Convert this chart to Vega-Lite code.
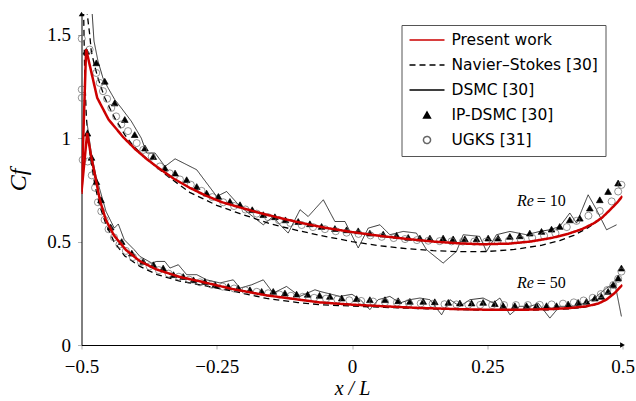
{
"$schema":"https://vega.github.io/schema/vega-lite/v6.json",
"width":541,"height":331,
"autosize":{"type":"none"},
"padding":{"left":81.5,"top":14,"right":14,"bottom":56},
"config":{
 "view":{"stroke":null},
 "axis":{"domainColor":"black","domainWidth":1,"tickColor":"#b0b0b0","tickSize":4,"labelFont":"Liberation Serif","labelFontSize":19,"labelColor":"black","titleFont":"Liberation Serif","titleColor":"black","titleFontWeight":"normal","grid":false,"labelFlush":false,"labelOverlap":false},
 "legend":{"orient":"none","legendX":320,"legendY":11,"strokeColor":"#555555","fillColor":"white","padding":7,"labelFont":"DejaVu Sans","labelFontSize":15.5,"labelColor":"black","labelOffset":6,"rowPadding":8,"clipHeight":16,"labelLimit":300,"symbolSize":1225}
},
"datasets":{
"lines":[
{"s":"Navier–Stokes [30]","re":10,"x":-0.4975,"y":2.4},{"s":"Navier–Stokes [30]","re":10,"x":-0.4893,"y":1.597},{"s":"Navier–Stokes [30]","re":10,"x":-0.4848,"y":1.5},{"s":"Navier–Stokes [30]","re":10,"x":-0.4819,"y":1.42},{"s":"Navier–Stokes [30]","re":10,"x":-0.4756,"y":1.348},{"s":"Navier–Stokes [30]","re":10,"x":-0.4695,"y":1.29},{"s":"Navier–Stokes [30]","re":10,"x":-0.4634,"y":1.243},{"s":"Navier–Stokes [30]","re":10,"x":-0.4571,"y":1.195},{"s":"Navier–Stokes [30]","re":10,"x":-0.4479,"y":1.146},{"s":"Navier–Stokes [30]","re":10,"x":-0.4387,"y":1.098},{"s":"Navier–Stokes [30]","re":10,"x":-0.4294,"y":1.058},{"s":"Navier–Stokes [30]","re":10,"x":-0.4202,"y":1.017},{"s":"Navier–Stokes [30]","re":10,"x":-0.405,"y":0.965},{"s":"Navier–Stokes [30]","re":10,"x":-0.39,"y":0.925},{"s":"Navier–Stokes [30]","re":10,"x":-0.37,"y":0.88},{"s":"Navier–Stokes [30]","re":10,"x":-0.343,"y":0.82},{"s":"Navier–Stokes [30]","re":10,"x":-0.3,"y":0.738},{"s":"Navier–Stokes [30]","re":10,"x":-0.25,"y":0.675},{"s":"Navier–Stokes [30]","re":10,"x":-0.207,"y":0.635},{"s":"Navier–Stokes [30]","re":10,"x":-0.15,"y":0.585},{"s":"Navier–Stokes [30]","re":10,"x":-0.1,"y":0.553},{"s":"Navier–Stokes [30]","re":10,"x":-0.05,"y":0.525},{"s":"Navier–Stokes [30]","re":10,"x":0,"y":0.5},{"s":"Navier–Stokes [30]","re":10,"x":0.05,"y":0.48},{"s":"Navier–Stokes [30]","re":10,"x":0.1,"y":0.466},{"s":"Navier–Stokes [30]","re":10,"x":0.15,"y":0.456},{"s":"Navier–Stokes [30]","re":10,"x":0.2,"y":0.451},{"s":"Navier–Stokes [30]","re":10,"x":0.25,"y":0.452},{"s":"Navier–Stokes [30]","re":10,"x":0.3,"y":0.462},{"s":"Navier–Stokes [30]","re":10,"x":0.35,"y":0.482},{"s":"Navier–Stokes [30]","re":10,"x":0.384,"y":0.505},{"s":"Navier–Stokes [30]","re":10,"x":0.41,"y":0.53},{"s":"Navier–Stokes [30]","re":10,"x":0.435,"y":0.565},{"s":"Navier–Stokes [30]","re":10,"x":0.455,"y":0.6},
{"s":"Navier–Stokes [30]","re":50,"x":-0.4985,"y":2.2},{"s":"Navier–Stokes [30]","re":50,"x":-0.496,"y":1.6},{"s":"Navier–Stokes [30]","re":50,"x":-0.494,"y":1.3},{"s":"Navier–Stokes [30]","re":50,"x":-0.491,"y":1.1},{"s":"Navier–Stokes [30]","re":50,"x":-0.487,"y":0.98},{"s":"Navier–Stokes [30]","re":50,"x":-0.482,"y":0.88},{"s":"Navier–Stokes [30]","re":50,"x":-0.475,"y":0.77},{"s":"Navier–Stokes [30]","re":50,"x":-0.466,"y":0.67},{"s":"Navier–Stokes [30]","re":50,"x":-0.455,"y":0.585},{"s":"Navier–Stokes [30]","re":50,"x":-0.44,"y":0.5},{"s":"Navier–Stokes [30]","re":50,"x":-0.42,"y":0.43},{"s":"Navier–Stokes [30]","re":50,"x":-0.392,"y":0.38},{"s":"Navier–Stokes [30]","re":50,"x":-0.36,"y":0.34},{"s":"Navier–Stokes [30]","re":50,"x":-0.32,"y":0.31},{"s":"Navier–Stokes [30]","re":50,"x":-0.281,"y":0.291},{"s":"Navier–Stokes [30]","re":50,"x":-0.22,"y":0.26},{"s":"Navier–Stokes [30]","re":50,"x":-0.158,"y":0.225},{"s":"Navier–Stokes [30]","re":50,"x":-0.1,"y":0.205},{"s":"Navier–Stokes [30]","re":50,"x":-0.059,"y":0.195},{"s":"Navier–Stokes [30]","re":50,"x":0,"y":0.188},{"s":"Navier–Stokes [30]","re":50,"x":0.06,"y":0.182},{"s":"Navier–Stokes [30]","re":50,"x":0.125,"y":0.176},{"s":"Navier–Stokes [30]","re":50,"x":0.2,"y":0.171},{"s":"Navier–Stokes [30]","re":50,"x":0.26,"y":0.168},{"s":"Navier–Stokes [30]","re":50,"x":0.31,"y":0.168},{"s":"Navier–Stokes [30]","re":50,"x":0.36,"y":0.17},{"s":"Navier–Stokes [30]","re":50,"x":0.4,"y":0.175},{"s":"Navier–Stokes [30]","re":50,"x":0.43,"y":0.183},{"s":"Navier–Stokes [30]","re":50,"x":0.45,"y":0.195},
{"s":"DSMC [30]","re":10,"x":-0.484,"y":1.75},{"s":"DSMC [30]","re":10,"x":-0.4769,"y":1.469},{"s":"DSMC [30]","re":10,"x":-0.4695,"y":1.372},{"s":"DSMC [30]","re":10,"x":-0.4603,"y":1.29},{"s":"DSMC [30]","re":10,"x":-0.451,"y":1.243},{"s":"DSMC [30]","re":10,"x":-0.4387,"y":1.187},{"s":"DSMC [30]","re":10,"x":-0.4265,"y":1.146},{"s":"DSMC [30]","re":10,"x":-0.408,"y":1.082},{"s":"DSMC [30]","re":10,"x":-0.3895,"y":1.0},{"s":"DSMC [30]","re":10,"x":-0.3795,"y":0.928},{"s":"DSMC [30]","re":10,"x":-0.364,"y":0.928},{"s":"DSMC [30]","re":10,"x":-0.3457,"y":0.863},{"s":"DSMC [30]","re":10,"x":-0.327,"y":0.9},{"s":"DSMC [30]","re":10,"x":-0.287,"y":0.847},{"s":"DSMC [30]","re":10,"x":-0.2687,"y":0.783},{"s":"DSMC [30]","re":10,"x":-0.25,"y":0.718},{"s":"DSMC [30]","re":10,"x":-0.2317,"y":0.742},{"s":"DSMC [30]","re":10,"x":-0.207,"y":0.67},{"s":"DSMC [30]","re":10,"x":-0.164,"y":0.581},{"s":"DSMC [30]","re":10,"x":-0.146,"y":0.621},{"s":"DSMC [30]","re":10,"x":-0.133,"y":0.581},{"s":"DSMC [30]","re":10,"x":-0.118,"y":0.541},{"s":"DSMC [30]","re":10,"x":-0.096,"y":0.654},{"s":"DSMC [30]","re":10,"x":-0.081,"y":0.621},{"s":"DSMC [30]","re":10,"x":-0.053,"y":0.702},{"s":"DSMC [30]","re":10,"x":-0.0316,"y":0.597},{"s":"DSMC [30]","re":10,"x":-0.013,"y":0.597},{"s":"DSMC [30]","re":10,"x":0.0115,"y":0.469},{"s":"DSMC [30]","re":10,"x":0.03,"y":0.565},{"s":"DSMC [30]","re":10,"x":0.0516,"y":0.581},{"s":"DSMC [30]","re":10,"x":0.07,"y":0.533},{"s":"DSMC [30]","re":10,"x":0.0946,"y":0.549},{"s":"DSMC [30]","re":10,"x":0.119,"y":0.541},{"s":"DSMC [30]","re":10,"x":0.138,"y":0.46},{"s":"DSMC [30]","re":10,"x":0.1685,"y":0.396},{"s":"DSMC [30]","re":10,"x":0.193,"y":0.452},{"s":"DSMC [30]","re":10,"x":0.2055,"y":0.533},{"s":"DSMC [30]","re":10,"x":0.236,"y":0.525},{"s":"DSMC [30]","re":10,"x":0.2487,"y":0.452},{"s":"DSMC [30]","re":10,"x":0.267,"y":0.533},{"s":"DSMC [30]","re":10,"x":0.292,"y":0.549},{"s":"DSMC [30]","re":10,"x":0.3226,"y":0.533},{"s":"DSMC [30]","re":10,"x":0.347,"y":0.549},{"s":"DSMC [30]","re":10,"x":0.3657,"y":0.557},{"s":"DSMC [30]","re":10,"x":0.384,"y":0.573},{"s":"DSMC [30]","re":10,"x":0.4026,"y":0.638},{"s":"DSMC [30]","re":10,"x":0.415,"y":0.589},{"s":"DSMC [30]","re":10,"x":0.4365,"y":0.726},{"s":"DSMC [30]","re":10,"x":0.452,"y":0.654},{"s":"DSMC [30]","re":10,"x":0.4705,"y":0.557},{"s":"DSMC [30]","re":10,"x":0.489,"y":0.581},
{"s":"DSMC [30]","re":50,"x":-0.489,"y":1.06},{"s":"DSMC [30]","re":50,"x":-0.482,"y":0.93},{"s":"DSMC [30]","re":50,"x":-0.473,"y":0.815},{"s":"DSMC [30]","re":50,"x":-0.4547,"y":0.646},{"s":"DSMC [30]","re":50,"x":-0.4394,"y":0.565},{"s":"DSMC [30]","re":50,"x":-0.432,"y":0.585},{"s":"DSMC [30]","re":50,"x":-0.421,"y":0.509},{"s":"DSMC [30]","re":50,"x":-0.4024,"y":0.46},{"s":"DSMC [30]","re":50,"x":-0.392,"y":0.428},{"s":"DSMC [30]","re":50,"x":-0.37,"y":0.396},{"s":"DSMC [30]","re":50,"x":-0.361,"y":0.404},{"s":"DSMC [30]","re":50,"x":-0.346,"y":0.404},{"s":"DSMC [30]","re":50,"x":-0.3365,"y":0.372},{"s":"DSMC [30]","re":50,"x":-0.321,"y":0.388},{"s":"DSMC [30]","re":50,"x":-0.3056,"y":0.34},{"s":"DSMC [30]","re":50,"x":-0.287,"y":0.34},{"s":"DSMC [30]","re":50,"x":-0.2687,"y":0.315},{"s":"DSMC [30]","re":50,"x":-0.244,"y":0.3},{"s":"DSMC [30]","re":50,"x":-0.2195,"y":0.315},{"s":"DSMC [30]","re":50,"x":-0.207,"y":0.275},{"s":"DSMC [30]","re":50,"x":-0.1855,"y":0.291},{"s":"DSMC [30]","re":50,"x":-0.164,"y":0.315},{"s":"DSMC [30]","re":50,"x":-0.1456,"y":0.251},{"s":"DSMC [30]","re":50,"x":-0.121,"y":0.283},{"s":"DSMC [30]","re":50,"x":-0.0963,"y":0.235},{"s":"DSMC [30]","re":50,"x":-0.0685,"y":0.267},{"s":"DSMC [30]","re":50,"x":-0.0593,"y":0.259},{"s":"DSMC [30]","re":50,"x":-0.0224,"y":0.235},{"s":"DSMC [30]","re":50,"x":0.0,"y":0.245},{"s":"DSMC [30]","re":50,"x":0.015,"y":0.22},{"s":"DSMC [30]","re":50,"x":0.033,"y":0.171},{"s":"DSMC [30]","re":50,"x":0.0484,"y":0.219},{"s":"DSMC [30]","re":50,"x":0.07,"y":0.235},{"s":"DSMC [30]","re":50,"x":0.0885,"y":0.203},{"s":"DSMC [30]","re":50,"x":0.107,"y":0.219},{"s":"DSMC [30]","re":50,"x":0.1255,"y":0.227},{"s":"DSMC [30]","re":50,"x":0.144,"y":0.219},{"s":"DSMC [30]","re":50,"x":0.1656,"y":0.146},{"s":"DSMC [30]","re":50,"x":0.181,"y":0.219},{"s":"DSMC [30]","re":50,"x":0.1994,"y":0.187},{"s":"DSMC [30]","re":50,"x":0.218,"y":0.219},{"s":"DSMC [30]","re":50,"x":0.2424,"y":0.227},{"s":"DSMC [30]","re":50,"x":0.261,"y":0.203},{"s":"DSMC [30]","re":50,"x":0.2733,"y":0.227},{"s":"DSMC [30]","re":50,"x":0.292,"y":0.146},{"s":"DSMC [30]","re":50,"x":0.31,"y":0.187},{"s":"DSMC [30]","re":50,"x":0.3287,"y":0.187},{"s":"DSMC [30]","re":50,"x":0.345,"y":0.2},{"s":"DSMC [30]","re":50,"x":0.3657,"y":0.13},{"s":"DSMC [30]","re":50,"x":0.384,"y":0.187},{"s":"DSMC [30]","re":50,"x":0.4087,"y":0.187},{"s":"DSMC [30]","re":50,"x":0.4335,"y":0.203},{"s":"DSMC [30]","re":50,"x":0.452,"y":0.235},{"s":"DSMC [30]","re":50,"x":0.4705,"y":0.275},{"s":"DSMC [30]","re":50,"x":0.4858,"y":0.3},{"s":"DSMC [30]","re":50,"x":0.498,"y":0.138}
],
"red":[
{"s":"Present work","re":10,"x":-0.5,"y":0.73},{"s":"Present work","re":10,"x":-0.4915,"y":1.43},{"s":"Present work","re":10,"x":-0.471,"y":1.195},{"s":"Present work","re":10,"x":-0.45,"y":1.09},{"s":"Present work","re":10,"x":-0.423,"y":1.005},{"s":"Present work","re":10,"x":-0.4,"y":0.945},{"s":"Present work","re":10,"x":-0.38,"y":0.9},{"s":"Present work","re":10,"x":-0.36,"y":0.86},{"s":"Present work","re":10,"x":-0.33,"y":0.805},{"s":"Present work","re":10,"x":-0.3,"y":0.76},{"s":"Present work","re":10,"x":-0.27,"y":0.722},{"s":"Present work","re":10,"x":-0.24,"y":0.69},{"s":"Present work","re":10,"x":-0.207,"y":0.665},{"s":"Present work","re":10,"x":-0.17,"y":0.638},{"s":"Present work","re":10,"x":-0.13,"y":0.612},{"s":"Present work","re":10,"x":-0.09,"y":0.588},{"s":"Present work","re":10,"x":-0.05,"y":0.567},{"s":"Present work","re":10,"x":0,"y":0.546},{"s":"Present work","re":10,"x":0.05,"y":0.528},{"s":"Present work","re":10,"x":0.1,"y":0.513},{"s":"Present work","re":10,"x":0.15,"y":0.5},{"s":"Present work","re":10,"x":0.2,"y":0.491},{"s":"Present work","re":10,"x":0.24,"y":0.487},{"s":"Present work","re":10,"x":0.29,"y":0.49},{"s":"Present work","re":10,"x":0.33,"y":0.5},{"s":"Present work","re":10,"x":0.37,"y":0.518},{"s":"Present work","re":10,"x":0.4,"y":0.538},{"s":"Present work","re":10,"x":0.425,"y":0.56},{"s":"Present work","re":10,"x":0.446,"y":0.587},{"s":"Present work","re":10,"x":0.462,"y":0.615},{"s":"Present work","re":10,"x":0.4765,"y":0.652},{"s":"Present work","re":10,"x":0.49,"y":0.688},{"s":"Present work","re":10,"x":0.5,"y":0.72},
{"s":"Present work","re":50,"x":-0.5,"y":0.74},{"s":"Present work","re":50,"x":-0.4895,"y":1.025},{"s":"Present work","re":50,"x":-0.482,"y":0.91},{"s":"Present work","re":50,"x":-0.472,"y":0.78},{"s":"Present work","re":50,"x":-0.466,"y":0.7},{"s":"Present work","re":50,"x":-0.455,"y":0.605},{"s":"Present work","re":50,"x":-0.44,"y":0.53},{"s":"Present work","re":50,"x":-0.418,"y":0.46},{"s":"Present work","re":50,"x":-0.392,"y":0.405},{"s":"Present work","re":50,"x":-0.362,"y":0.366},{"s":"Present work","re":50,"x":-0.32,"y":0.33},{"s":"Present work","re":50,"x":-0.28,"y":0.307},{"s":"Present work","re":50,"x":-0.22,"y":0.27},{"s":"Present work","re":50,"x":-0.158,"y":0.24},{"s":"Present work","re":50,"x":-0.1,"y":0.22},{"s":"Present work","re":50,"x":-0.06,"y":0.206},{"s":"Present work","re":50,"x":0,"y":0.195},{"s":"Present work","re":50,"x":0.06,"y":0.187},{"s":"Present work","re":50,"x":0.125,"y":0.179},{"s":"Present work","re":50,"x":0.2,"y":0.173},{"s":"Present work","re":50,"x":0.26,"y":0.17},{"s":"Present work","re":50,"x":0.31,"y":0.17},{"s":"Present work","re":50,"x":0.36,"y":0.173},{"s":"Present work","re":50,"x":0.4,"y":0.178},{"s":"Present work","re":50,"x":0.433,"y":0.187},{"s":"Present work","re":50,"x":0.455,"y":0.2},{"s":"Present work","re":50,"x":0.47,"y":0.219},{"s":"Present work","re":50,"x":0.485,"y":0.25},{"s":"Present work","re":50,"x":0.5,"y":0.291}
],
"pts":[
{"s":"IP-DSMC [30]","x":-0.4911,"y":1.42},{"s":"IP-DSMC [30]","x":-0.4727,"y":1.364},{"s":"IP-DSMC [30]","x":-0.457,"y":1.275},{"s":"IP-DSMC [30]","x":-0.4387,"y":1.17},{"s":"IP-DSMC [30]","x":-0.42,"y":1.09},{"s":"IP-DSMC [30]","x":-0.4017,"y":1.017},{"s":"IP-DSMC [30]","x":-0.3827,"y":0.952},{"s":"IP-DSMC [30]","x":-0.3673,"y":0.911},{"s":"IP-DSMC [30]","x":-0.3457,"y":0.855},{"s":"IP-DSMC [30]","x":-0.327,"y":0.831},{"s":"IP-DSMC [30]","x":-0.3056,"y":0.799},{"s":"IP-DSMC [30]","x":-0.287,"y":0.766},{"s":"IP-DSMC [30]","x":-0.2687,"y":0.734},{"s":"IP-DSMC [30]","x":-0.247,"y":0.718},{"s":"IP-DSMC [30]","x":-0.2256,"y":0.694},{"s":"IP-DSMC [30]","x":-0.207,"y":0.678},{"s":"IP-DSMC [30]","x":-0.1844,"y":0.654},{"s":"IP-DSMC [30]","x":-0.164,"y":0.63},{"s":"IP-DSMC [30]","x":-0.1425,"y":0.62},{"s":"IP-DSMC [30]","x":-0.123,"y":0.605},{"s":"IP-DSMC [30]","x":-0.0994,"y":0.597},{"s":"IP-DSMC [30]","x":-0.0778,"y":0.586},{"s":"IP-DSMC [30]","x":-0.0562,"y":0.573},{"s":"IP-DSMC [30]","x":-0.0316,"y":0.563},{"s":"IP-DSMC [30]","x":-0.01,"y":0.557},{"s":"IP-DSMC [30]","x":0.0115,"y":0.552},{"s":"IP-DSMC [30]","x":0.033,"y":0.541},{"s":"IP-DSMC [30]","x":0.0577,"y":0.536},{"s":"IP-DSMC [30]","x":0.0824,"y":0.53},{"s":"IP-DSMC [30]","x":0.1039,"y":0.52},{"s":"IP-DSMC [30]","x":0.1255,"y":0.517},{"s":"IP-DSMC [30]","x":0.144,"y":0.517},{"s":"IP-DSMC [30]","x":0.1685,"y":0.517},{"s":"IP-DSMC [30]","x":0.187,"y":0.513},{"s":"IP-DSMC [30]","x":0.2086,"y":0.513},{"s":"IP-DSMC [30]","x":0.2302,"y":0.513},{"s":"IP-DSMC [30]","x":0.2517,"y":0.517},{"s":"IP-DSMC [30]","x":0.2701,"y":0.517},{"s":"IP-DSMC [30]","x":0.2918,"y":0.525},{"s":"IP-DSMC [30]","x":0.31,"y":0.528},{"s":"IP-DSMC [30]","x":0.3287,"y":0.541},{"s":"IP-DSMC [30]","x":0.3503,"y":0.549},{"s":"IP-DSMC [30]","x":0.3688,"y":0.56},{"s":"IP-DSMC [30]","x":0.384,"y":0.573},{"s":"IP-DSMC [30]","x":0.4026,"y":0.605},{"s":"IP-DSMC [30]","x":0.4211,"y":0.613},{"s":"IP-DSMC [30]","x":0.4396,"y":0.662},{"s":"IP-DSMC [30]","x":0.458,"y":0.702},{"s":"IP-DSMC [30]","x":0.4734,"y":0.742},{"s":"IP-DSMC [30]","x":0.4919,"y":0.783},
{"s":"IP-DSMC [30]","x":-0.489,"y":1.024},{"s":"IP-DSMC [30]","x":-0.4815,"y":0.907},{"s":"IP-DSMC [30]","x":-0.4725,"y":0.79},{"s":"IP-DSMC [30]","x":-0.464,"y":0.702},{"s":"IP-DSMC [30]","x":-0.446,"y":0.57},{"s":"IP-DSMC [30]","x":-0.4257,"y":0.5},{"s":"IP-DSMC [30]","x":-0.407,"y":0.444},{"s":"IP-DSMC [30]","x":-0.386,"y":0.404},{"s":"IP-DSMC [30]","x":-0.367,"y":0.388},{"s":"IP-DSMC [30]","x":-0.349,"y":0.372},{"s":"IP-DSMC [30]","x":-0.33,"y":0.34},{"s":"IP-DSMC [30]","x":-0.312,"y":0.331},{"s":"IP-DSMC [30]","x":-0.293,"y":0.315},{"s":"IP-DSMC [30]","x":-0.272,"y":0.307},{"s":"IP-DSMC [30]","x":-0.253,"y":0.291},{"s":"IP-DSMC [30]","x":-0.2287,"y":0.283},{"s":"IP-DSMC [30]","x":-0.2103,"y":0.275},{"s":"IP-DSMC [30]","x":-0.1887,"y":0.267},{"s":"IP-DSMC [30]","x":-0.167,"y":0.259},{"s":"IP-DSMC [30]","x":-0.1456,"y":0.259},{"s":"IP-DSMC [30]","x":-0.124,"y":0.251},{"s":"IP-DSMC [30]","x":-0.1024,"y":0.246},{"s":"IP-DSMC [30]","x":-0.082,"y":0.245},{"s":"IP-DSMC [30]","x":-0.06,"y":0.24},{"s":"IP-DSMC [30]","x":-0.0408,"y":0.235},{"s":"IP-DSMC [30]","x":-0.019,"y":0.227},{"s":"IP-DSMC [30]","x":0.0085,"y":0.224},{"s":"IP-DSMC [30]","x":0.033,"y":0.219},{"s":"IP-DSMC [30]","x":0.061,"y":0.219},{"s":"IP-DSMC [30]","x":0.0854,"y":0.214},{"s":"IP-DSMC [30]","x":0.107,"y":0.211},{"s":"IP-DSMC [30]","x":0.1316,"y":0.211},{"s":"IP-DSMC [30]","x":0.153,"y":0.209},{"s":"IP-DSMC [30]","x":0.178,"y":0.206},{"s":"IP-DSMC [30]","x":0.1994,"y":0.203},{"s":"IP-DSMC [30]","x":0.221,"y":0.203},{"s":"IP-DSMC [30]","x":0.2424,"y":0.206},{"s":"IP-DSMC [30]","x":0.264,"y":0.2},{"s":"IP-DSMC [30]","x":0.2794,"y":0.19},{"s":"IP-DSMC [30]","x":0.301,"y":0.19},{"s":"IP-DSMC [30]","x":0.3226,"y":0.19},{"s":"IP-DSMC [30]","x":0.341,"y":0.19},{"s":"IP-DSMC [30]","x":0.3596,"y":0.19},{"s":"IP-DSMC [30]","x":0.378,"y":0.19},{"s":"IP-DSMC [30]","x":0.3995,"y":0.198},{"s":"IP-DSMC [30]","x":0.418,"y":0.206},{"s":"IP-DSMC [30]","x":0.4335,"y":0.211},{"s":"IP-DSMC [30]","x":0.449,"y":0.227},{"s":"IP-DSMC [30]","x":0.461,"y":0.235},{"s":"IP-DSMC [30]","x":0.4734,"y":0.259},{"s":"IP-DSMC [30]","x":0.4826,"y":0.291},{"s":"IP-DSMC [30]","x":0.492,"y":0.324},{"s":"IP-DSMC [30]","x":0.498,"y":0.372},
{"s":"UGKS [31]","x":-0.4995,"y":1.481},{"s":"UGKS [31]","x":-0.4995,"y":1.235},{"s":"UGKS [31]","x":-0.4995,"y":1.195},{"s":"UGKS [31]","x":-0.485,"y":1.428},{"s":"UGKS [31]","x":-0.4727,"y":1.315},{"s":"UGKS [31]","x":-0.4664,"y":1.267},{"s":"UGKS [31]","x":-0.4603,"y":1.227},{"s":"UGKS [31]","x":-0.4527,"y":1.19},{"s":"UGKS [31]","x":-0.445,"y":1.146},{"s":"UGKS [31]","x":-0.436,"y":1.105},{"s":"UGKS [31]","x":-0.4265,"y":1.066},{"s":"UGKS [31]","x":-0.414,"y":1.034},{"s":"UGKS [31]","x":-0.398,"y":0.976},{"s":"UGKS [31]","x":-0.3858,"y":0.943},{"s":"UGKS [31]","x":-0.3703,"y":0.911},{"s":"UGKS [31]","x":-0.355,"y":0.863},{"s":"UGKS [31]","x":-0.337,"y":0.83},{"s":"UGKS [31]","x":-0.318,"y":0.8},{"s":"UGKS [31]","x":-0.298,"y":0.775},{"s":"UGKS [31]","x":-0.278,"y":0.745},{"s":"UGKS [31]","x":-0.258,"y":0.715},{"s":"UGKS [31]","x":-0.238,"y":0.69},{"s":"UGKS [31]","x":-0.218,"y":0.672},{"s":"UGKS [31]","x":-0.197,"y":0.655},{"s":"UGKS [31]","x":-0.176,"y":0.635},{"s":"UGKS [31]","x":-0.155,"y":0.618},{"s":"UGKS [31]","x":-0.135,"y":0.603},{"s":"UGKS [31]","x":-0.114,"y":0.59},{"s":"UGKS [31]","x":-0.093,"y":0.58},{"s":"UGKS [31]","x":-0.072,"y":0.57},{"s":"UGKS [31]","x":-0.05,"y":0.56},{"s":"UGKS [31]","x":-0.03,"y":0.55},{"s":"UGKS [31]","x":-0.01,"y":0.543},{"s":"UGKS [31]","x":0.012,"y":0.537},{"s":"UGKS [31]","x":0.034,"y":0.53},{"s":"UGKS [31]","x":0.055,"y":0.523},{"s":"UGKS [31]","x":0.077,"y":0.517},{"s":"UGKS [31]","x":0.098,"y":0.512},{"s":"UGKS [31]","x":0.12,"y":0.507},{"s":"UGKS [31]","x":0.141,"y":0.504},{"s":"UGKS [31]","x":0.162,"y":0.502},{"s":"UGKS [31]","x":0.184,"y":0.501},{"s":"UGKS [31]","x":0.205,"y":0.5},{"s":"UGKS [31]","x":0.226,"y":0.5},{"s":"UGKS [31]","x":0.248,"y":0.5},{"s":"UGKS [31]","x":0.269,"y":0.502},{"s":"UGKS [31]","x":0.29,"y":0.505},{"s":"UGKS [31]","x":0.312,"y":0.51},{"s":"UGKS [31]","x":0.333,"y":0.518},{"s":"UGKS [31]","x":0.355,"y":0.528},{"s":"UGKS [31]","x":0.376,"y":0.54},{"s":"UGKS [31]","x":0.397,"y":0.57},{"s":"UGKS [31]","x":0.415,"y":0.6},{"s":"UGKS [31]","x":0.437,"y":0.625},{"s":"UGKS [31]","x":0.458,"y":0.648},{"s":"UGKS [31]","x":0.48,"y":0.694},{"s":"UGKS [31]","x":0.492,"y":0.742},{"s":"UGKS [31]","x":0.498,"y":0.774},
{"s":"UGKS [31]","x":-0.4978,"y":0.895},{"s":"UGKS [31]","x":-0.4886,"y":0.887},{"s":"UGKS [31]","x":-0.481,"y":0.82},{"s":"UGKS [31]","x":-0.475,"y":0.76},{"s":"UGKS [31]","x":-0.4696,"y":0.69},{"s":"UGKS [31]","x":-0.4634,"y":0.646},{"s":"UGKS [31]","x":-0.4573,"y":0.605},{"s":"UGKS [31]","x":-0.45,"y":0.56},{"s":"UGKS [31]","x":-0.44,"y":0.52},{"s":"UGKS [31]","x":-0.43,"y":0.485},{"s":"UGKS [31]","x":-0.418,"y":0.455},{"s":"UGKS [31]","x":-0.405,"y":0.425},{"s":"UGKS [31]","x":-0.39,"y":0.4},{"s":"UGKS [31]","x":-0.374,"y":0.38},{"s":"UGKS [31]","x":-0.357,"y":0.362},{"s":"UGKS [31]","x":-0.339,"y":0.345},{"s":"UGKS [31]","x":-0.32,"y":0.33},{"s":"UGKS [31]","x":-0.301,"y":0.316},{"s":"UGKS [31]","x":-0.281,"y":0.303},{"s":"UGKS [31]","x":-0.26,"y":0.292},{"s":"UGKS [31]","x":-0.239,"y":0.282},{"s":"UGKS [31]","x":-0.218,"y":0.273},{"s":"UGKS [31]","x":-0.197,"y":0.264},{"s":"UGKS [31]","x":-0.176,"y":0.257},{"s":"UGKS [31]","x":-0.155,"y":0.25},{"s":"UGKS [31]","x":-0.134,"y":0.244},{"s":"UGKS [31]","x":-0.113,"y":0.238},{"s":"UGKS [31]","x":-0.091,"y":0.233},{"s":"UGKS [31]","x":-0.07,"y":0.228},{"s":"UGKS [31]","x":-0.048,"y":0.224},{"s":"UGKS [31]","x":-0.027,"y":0.22},{"s":"UGKS [31]","x":-0.005,"y":0.216},{"s":"UGKS [31]","x":0.017,"y":0.213},{"s":"UGKS [31]","x":0.039,"y":0.21},{"s":"UGKS [31]","x":0.061,"y":0.207},{"s":"UGKS [31]","x":0.083,"y":0.205},{"s":"UGKS [31]","x":0.105,"y":0.203},{"s":"UGKS [31]","x":0.127,"y":0.201},{"s":"UGKS [31]","x":0.149,"y":0.199},{"s":"UGKS [31]","x":0.171,"y":0.197},{"s":"UGKS [31]","x":0.193,"y":0.196},{"s":"UGKS [31]","x":0.215,"y":0.195},{"s":"UGKS [31]","x":0.237,"y":0.194},{"s":"UGKS [31]","x":0.259,"y":0.193},{"s":"UGKS [31]","x":0.281,"y":0.193},{"s":"UGKS [31]","x":0.303,"y":0.193},{"s":"UGKS [31]","x":0.325,"y":0.193},{"s":"UGKS [31]","x":0.347,"y":0.194},{"s":"UGKS [31]","x":0.369,"y":0.196},{"s":"UGKS [31]","x":0.39,"y":0.2},{"s":"UGKS [31]","x":0.41,"y":0.206},{"s":"UGKS [31]","x":0.428,"y":0.215},{"s":"UGKS [31]","x":0.445,"y":0.228},{"s":"UGKS [31]","x":0.46,"y":0.246},{"s":"UGKS [31]","x":0.472,"y":0.266},{"s":"UGKS [31]","x":0.483,"y":0.29},{"s":"UGKS [31]","x":0.492,"y":0.32},{"s":"UGKS [31]","x":0.498,"y":0.355}
],
"notes":[{"x":0.336,"y":0.694,"a":"Re","b":"= 10"},{"x":0.336,"y":0.3,"a":"Re","b":"= 50"}]
},
"layer":[
{"data":{"name":"lines"},"mark":{"type":"line","clip":true},
 "encoding":{
  "x":{"field":"x","type":"quantitative","scale":{"domain":[-0.5,0.5],"nice":false,"zero":false},"axis":{"values":[-0.5,-0.25,0,0.25,0.5],"format":".2~f","title":"x / L","titleFontStyle":"italic","titleFontSize":20,"titlePadding":2,"labelPadding":8}},
  "y":{"field":"y","type":"quantitative","scale":{"domain":[0,1.6],"nice":false,"zero":false},"axis":{"values":[0,0.5,1,1.5],"format":".1~f","title":"Cf","titleFontStyle":"italic","titleFontSize":24,"titlePadding":16,"labelPadding":7}},
  "detail":{"field":"re","type":"nominal"},
  "color":{"field":"s","type":"nominal","title":null,"scale":{"domain":["Present work","Navier–Stokes [30]","DSMC [30]","IP-DSMC [30]","UGKS [31]"],"range":["#cc0000","#000000","#000000","#000000","#666666"]},
   "legend":{"encoding":{"symbols":{"shape":{"scale":"shape","field":"value"},"size":{"scale":"size","field":"value"},"fill":{"scale":"fill","field":"value"},"stroke":{"scale":"color","field":"value"},"strokeDash":{"scale":"strokeDash","field":"value"},"strokeWidth":{"scale":"strokeWidth","field":"value"},"opacity":{"value":1}}}}},
  "strokeDash":{"field":"s","type":"nominal","legend":null,"scale":{"type":"ordinal","domain":["Present work","Navier–Stokes [30]","DSMC [30]","IP-DSMC [30]","UGKS [31]"],"range":[[1,0],[6,4],[1,0],[1,0],[1,0]]}},
  "strokeWidth":{"field":"s","type":"nominal","legend":null,"scale":{"type":"ordinal","domain":["Present work","Navier–Stokes [30]","DSMC [30]","IP-DSMC [30]","UGKS [31]"],"range":[3,1.3,0.8,0.6,0.7]}}
 }},
{"data":{"name":"pts"},"mark":{"type":"point","filled":false,"opacity":1,"strokeWidth":0.7},
 "encoding":{
  "x":{"field":"x","type":"quantitative"},
  "y":{"field":"y","type":"quantitative"},
  "color":{"field":"s","type":"nominal"},
  "shape":{"field":"s","type":"nominal","legend":null,"scale":{"domain":["Present work","Navier–Stokes [30]","DSMC [30]","IP-DSMC [30]","UGKS [31]"],"range":["stroke","stroke","stroke","triangle-up","circle"]}},
  "size":{"field":"s","type":"nominal","legend":null,"scale":{"type":"ordinal","domain":["Present work","Navier–Stokes [30]","DSMC [30]","IP-DSMC [30]","UGKS [31]"],"range":[1225,1225,1225,45,50]}},
  "fill":{"field":"s","type":"nominal","legend":null,"scale":{"domain":["Present work","Navier–Stokes [30]","DSMC [30]","IP-DSMC [30]","UGKS [31]"],"range":["transparent","transparent","transparent","#000000","transparent"]}}
 }},
{"data":{"name":"red"},"mark":{"type":"line","clip":true},
 "encoding":{
  "x":{"field":"x","type":"quantitative"},
  "y":{"field":"y","type":"quantitative"},
  "detail":{"field":"re","type":"nominal"},
  "color":{"field":"s","type":"nominal"},
  "strokeDash":{"field":"s","type":"nominal","legend":null},
  "strokeWidth":{"field":"s","type":"nominal","legend":null}
 }},
{"data":{"name":"notes"},"mark":{"type":"text","align":"right","baseline":"middle","font":"Liberation Serif","fontSize":16,"fontStyle":"italic","color":"black"},
 "encoding":{"x":{"field":"x","type":"quantitative"},"y":{"field":"y","type":"quantitative"},"text":{"field":"a"}}},
{"data":{"name":"notes"},"mark":{"type":"text","align":"left","baseline":"middle","dx":3,"font":"Liberation Serif","fontSize":16,"color":"black"},
 "encoding":{"x":{"field":"x","type":"quantitative"},"y":{"field":"y","type":"quantitative"},"text":{"field":"b"}}},
{"data":{"values":[{}]},"mark":{"type":"point","shape":"triangle-right","filled":true,"color":"black","size":30,"opacity":1},
 "encoding":{"x":{"datum":0.5},"y":{"datum":0}}},
{"data":{"values":[{}]},"mark":{"type":"point","shape":"triangle-up","filled":true,"color":"black","size":30,"opacity":1},
 "encoding":{"x":{"datum":-0.5},"y":{"datum":1.6}}}
]
}
